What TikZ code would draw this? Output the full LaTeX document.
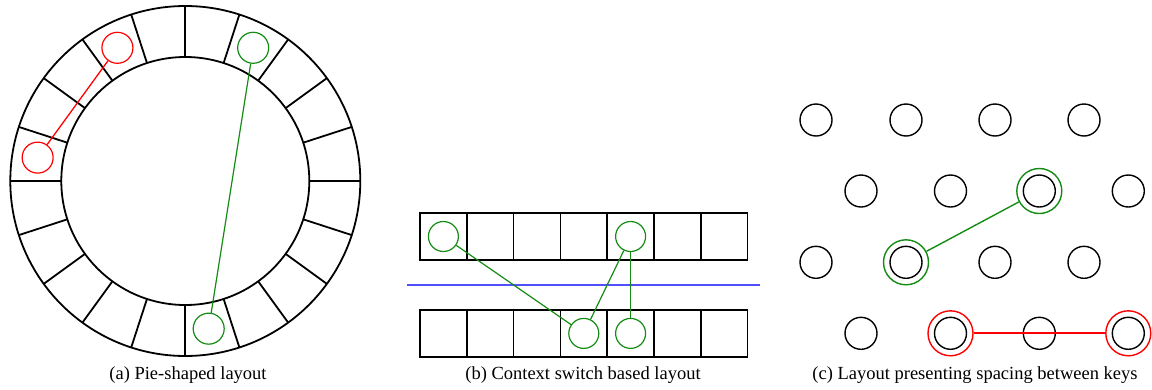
\documentclass[tikz,border=0pt]{standalone}
\usepackage{fontspec}
\setmainfont{Liberation Serif}
\definecolor{kgreen}{RGB}{20,140,20}
\definecolor{kblue}{RGB}{80,80,255}
\tikzset{
  wall/.style={line width=1.8pt, draw=black},
  keyc/.style={circle, draw, line width=1.2pt, minimum size=31pt, inner sep=0pt},
  gkey/.style={keyc, draw=kgreen},
  rkey/.style={keyc, draw=red},
  bkey/.style={circle, draw=black, line width=1.4pt, minimum size=32pt, inner sep=0pt},
  ring/.style={circle, line width=1.4pt, minimum size=45pt, inner sep=0pt},
  glink/.style={color=kgreen, line width=1.2pt},
  redline/.style={color=red, line width=1.8pt},
  cellbox/.style={draw=black, line width=1.3pt, minimum size=47pt, inner sep=0pt},
  capt/.style={font=\fontsize{18.5}{21}\selectfont, anchor=center}
}
\begin{document}
\begin{tikzpicture}[x=1pt,y=1pt]
\useasboundingbox (0,0) rectangle (1152,-389);
% ---------- (a) pie ----------
\coordinate (pc) at (185.3,-181);
\draw[wall] (pc) circle (175);
\draw[wall] (pc) circle (124);
\foreach \k in {0,...,19}{
  \draw[wall] ([shift={(pc)}]\k*18:124) -- ([shift={(pc)}]\k*18:175);
}
\node[rkey] (ra) at ([shift={(pc)}]117:149.5) {};
\node[rkey] (rb) at ([shift={(pc)}]171:149.5) {};
\node[gkey] (ga) at ([shift={(pc)}]63:149.5) {};
\node[gkey] (gb) at ([shift={(pc)}]279:149.5) {};
\draw[redline, line width=1.3pt] (ra) -- (rb);
\draw[glink] (ga) -- (gb);
\node[capt] (capa) at (188,-375) {(a) Pie-shaped layout};
% ---------- (b) context switch ----------
\foreach \i in {0,...,6}{
  \node[cellbox] (t\i) at (443.4+\i*46.8,-236.5) {};
  \node[cellbox] (b\i) at (443.4+\i*46.8,-333.4) {};
}
\coordinate (bl) at (407.3,-285);
\coordinate (br) at (760,-285);
\draw[color=kblue, line width=1.3pt] (bl) -- (br);
\node[gkey, minimum size=30pt] (c1) at (t0) {};
\node[gkey, minimum size=30pt] (c2) at (t4) {};
\node[gkey, minimum size=30pt] (c3) at (b3) {};
\node[gkey, minimum size=30pt] (c4) at (b4) {};
\draw[glink] (c1) -- (c3);
\draw[glink] (c2) -- (c3);
\draw[glink] (c2) -- (c4);
\node[capt] (capb) at (583,-375) {(b) Context switch based layout};
% ---------- (c) spacing ----------
\foreach \x [count=\n] in {816,906,995,1084}{
  \node[bkey] (p1\n) at (\x,-120) {};
  \node[bkey] (p3\n) at (\x,-262.3) {};
}
\foreach \x [count=\n] in {861,950.5,1039.3,1128.3}{
  \node[bkey] (p2\n) at (\x,-191) {};
  \node[bkey] (p4\n) at (\x,-333.3) {};
}
\node[ring, draw=kgreen] (gr1) at (p23) {};
\node[ring, draw=kgreen] (gr2) at (p32) {};
\node[ring, draw=red] (rr1) at (p42) {};
\node[ring, draw=red] (rr2) at (p44) {};
\draw[glink, line width=1.4pt] (gr2) -- (gr1);
\draw[redline] (rr1) -- (rr2);
\node[capt] (capc) at (975,-375) {(c) Layout presenting spacing between keys};
\end{tikzpicture}
\end{document}
